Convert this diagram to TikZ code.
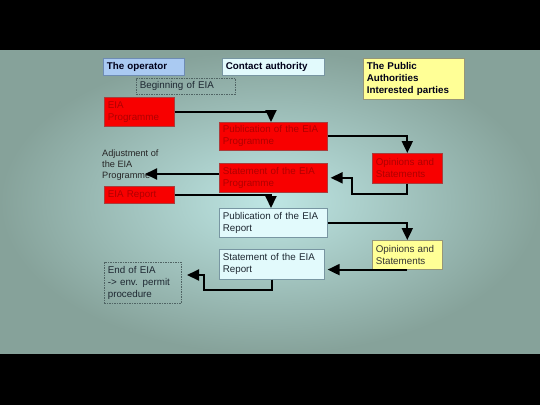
\documentclass[tikz,border=0pt]{standalone}
\usepackage{fontspec}
\setmainfont{Liberation Sans}
\usetikzlibrary{arrows.meta}

\definecolor{bgin}{RGB}{190,230,228}
\definecolor{bgout}{RGB}{134,162,154}
\definecolor{opblue}{RGB}{170,202,242}
\definecolor{opline}{RGB}{110,140,180}
\definecolor{paleblue}{RGB}{226,250,252}
\definecolor{paleline}{RGB}{120,150,162}
\definecolor{paleyel}{RGB}{255,255,150}
\definecolor{yelline}{RGB}{150,150,120}
\definecolor{boxred}{RGB}{248,0,0}
\definecolor{redtext}{RGB}{176,0,0}
\definecolor{redline}{RGB}{170,60,60}
\definecolor{dashline}{RGB}{80,100,100}
\definecolor{darktext}{RGB}{30,40,50}

\begin{document}
\begin{tikzpicture} [x=1pt, y=-1pt, font=\fontsize{9.8}{11.8}\selectfont,
    box/.style={draw, line width=0.6pt, anchor=north west, align=left,
        inner xsep=3.5pt, inner ysep=1pt},
    headbox/.style={box, font=\fontsize{9.8}{11.8}\selectfont\bfseries,
        text=black!90!blue},
    redbox/.style={box, fill=boxred, draw=redline, text=redtext},
    palebox/.style={box, fill=paleblue, draw=paleline, text=darktext},
    yelbox/.style={box, fill=paleyel, draw=yelline, text=black!80},
    dashbox/.style={box, draw=dashline, dash pattern=on 1.5pt off 1pt,
        text=darktext},
    flow/.style={-{Triangle[length=12pt, width=11pt]}, line width=1.9pt}]
    \useasboundingbox (0,0) rectangle (540,405);

    % backdrop
    \shade [inner color=bgin, outer color=bgout] (0,50) rectangle (540,354);
    \fill [black] (0,0) rectangle (540,50);
    \fill [black] (0,354) rectangle (540,405);

    % column heads
    \node (oper) [headbox, fill=opblue, draw=opline,
        text width=74pt, minimum height=17pt] at (103,58) {The operator};
    \node (contact) [headbox, fill=paleblue, draw=paleline,
        text width=95pt, minimum height=17pt] at (222,58) {Contact authority};
    \node (public) [headbox, fill=paleyel, draw=yelline,
        text width=94pt, minimum height=41pt] at (363,58)
        {The Public\\Authorities\\Interested parties};

    % programme stage
    \node (begin) [dashbox, text width=92pt, minimum height=16pt] at (136,78)
        {Beginning of EIA};
    \node (eiaprog) [redbox, text width=63pt, minimum height=29pt] at (104,97)
        {EIA\\Programme};
    \node (pubprog) [redbox, text width=101pt, minimum height=28pt] at (219,122)
        {Publication of the EIA\\Programme};
    \node (opinprog) [redbox, text width=63pt, minimum height=30pt] at (372,153)
        {Opinions and\\Statements};
    \node (stprog) [redbox, text width=101pt, minimum height=29pt] at (219,163)
        {Statement of the EIA\\Programme};
    \node (adjust) [anchor=north west, align=left, inner sep=1pt,
        font=\fontsize{9.2}{11}\selectfont, text=black!85] at (101,149)
        {Adjustment of\\the EIA\\Programme};
    \coordinate (adjtip) at (145,174);

    % report stage
    \node (eiarep) [redbox, text width=63pt, minimum height=17pt] at (104,186)
        {EIA Report};
    \node (pubrep) [palebox, text width=101pt, minimum height=29pt] at (219,208)
        {Publication of the EIA\\Report};
    \node (opinrep) [yelbox, text width=63pt, minimum height=29pt] at (372,240)
        {Opinions and\\Statements};
    \node (strep) [palebox, text width=98pt, minimum height=30pt] at (219,249)
        {Statement of the EIA\\Report};
    \node (endeia) [dashbox, text width=70pt, minimum height=41pt] at (104,262)
        {End of EIA\\-> env. permit\\procedure};
    \coordinate (endtip) at (187,275);

    % flow
    \draw [flow] (eiaprog.east) -| ([xshift=52pt]pubprog.north west);
    \draw [flow] (pubprog.east) -| (opinprog.north);
    \draw [flow] (opinprog.south) -- ++(0,10) -| ([xshift=24pt]stprog.east)
        -- ([xshift=3pt]stprog.east);
    \draw [flow] (stprog.west |- adjtip) -- (adjtip);
    \draw [flow] (eiarep.east) -| ([xshift=52pt]pubrep.north west);
    \draw [flow] (pubrep.east) -| (opinrep.north);
    \draw [flow] (opinrep.south) -- ([xshift=3pt]opinrep.south -| strep.east);
    \draw [flow] (strep.south) -- ++(0,10) -| ([xshift=17pt]endtip) -- (endtip);
\end{tikzpicture}
\end{document}
